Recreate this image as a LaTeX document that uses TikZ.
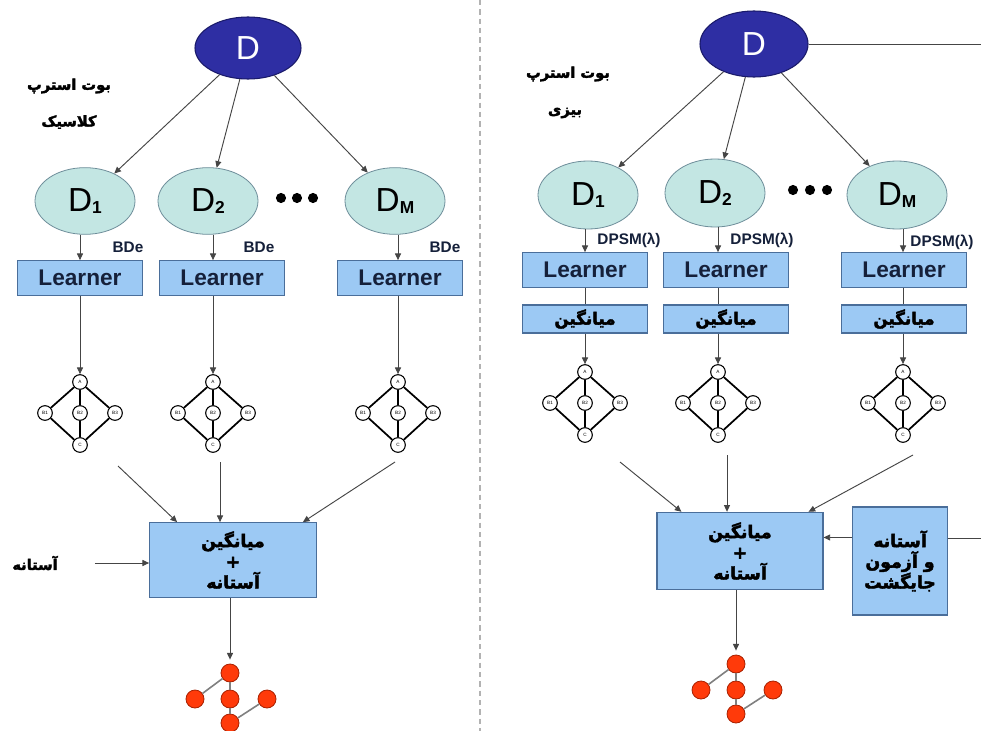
\documentclass[tikz,border=0pt]{standalone}
\usepackage{fontspec}
\setmainfont{Liberation Sans}
\newfontfamily\fa[Script=Arabic,BoldFeatures={FakeBold=2.5}]{DejaVu Sans}
\TeXXeTstate=1
\usetikzlibrary{shapes.geometric,arrows.meta,calc}
\definecolor{dtop}{HTML}{2E2EA3}
\definecolor{dtopb}{HTML}{1A1A6A}
\definecolor{dsub}{HTML}{C3E6E3}
\definecolor{dsubb}{HTML}{6E8E9A}
\definecolor{boxf}{HTML}{9CC9F4}
\definecolor{boxb}{HTML}{4A6E9A}
\definecolor{redn}{HTML}{FF3A0A}
\definecolor{rednb}{HTML}{A82000}
\definecolor{linec}{HTML}{454545}
\definecolor{ltxt}{HTML}{15203A}
\newcommand\fatxt[1]{\beginR #1\endR}
\newcommand\dsubtxt[1]{\fontsize{25}{25}\selectfont D\raisebox{-1.5pt}{\fontsize{13}{13}\selectfont\bfseries #1}}
\tikzset{
  arr/.style={draw=linec,line width=0.7pt,-{Triangle[length=5pt,width=4.5pt]}},
  plain/.style={draw=linec,line width=0.7pt},
  topd/.style={ellipse,draw=dtopb,fill=dtop,line width=0.8pt,inner sep=0pt,text=white,font=\fontsize{25}{25}\selectfont},
  subd/.style={ellipse,draw=dsubb,fill=dsub,line width=0.6pt,inner sep=0pt,minimum width=75pt,minimum height=50pt},
  bx/.style={rectangle,draw=boxb,fill=boxf,line width=0.8pt,inner sep=0pt},
  learnbox/.style={bx,minimum width=93.75pt,minimum height=26pt,text=ltxt,font=\fontsize{17}{17}\selectfont\bfseries},
  meanbox/.style={bx,minimum width=93.75pt,minimum height=21pt,font=\fa\bfseries\fontsize{12.5}{12.5}\selectfont},
  fatext/.style={font=\fa\bfseries\fontsize{11}{13}\selectfont,inner sep=0pt},
  lbl/.style={font=\fontsize{11.5}{11.5}\selectfont\bfseries,inner sep=0pt,text=ltxt},
  gn/.style={circle,draw=black,fill=white,line width=0.8pt,minimum size=11pt,inner sep=0pt,font=\fontsize{3.5}{4}\selectfont},
  gedge/.style={draw=black,line width=1.3pt},
  rn/.style={circle,draw=rednb,fill=redn,line width=0.6pt,minimum size=13.5pt,inner sep=0pt},
  redge/.style={draw=gray,line width=1.2pt},
  bigtxt/.style={align=center,font=\fa\bfseries\fontsize{13}{15.5}\selectfont},
}
\newcommand\smallgraph[3]{%
  \begin{scope}[shift={(#2,#3)}]
    \node[gn] (#1-A) at (0,-31) {A};
    \node[gn] (#1-B1) at (-35,0) {B1};
    \node[gn] (#1-B2) at (0,0) {B2};
    \node[gn] (#1-B3) at (35,0) {B3};
    \node[gn] (#1-C) at (0,32) {C};
    \draw[gedge] (#1-A) -- (#1-B1);
    \draw[gedge] (#1-A) -- (#1-B2);
    \draw[gedge] (#1-A) -- (#1-B3);
    \draw[gedge] (#1-B1) -- (#1-C);
    \draw[gedge] (#1-B2) -- (#1-C);
    \draw[gedge] (#1-B3) -- (#1-C);
  \end{scope}}
\newcommand\redgraph[3]{%
  \begin{scope}[shift={(#2,#3)}]
    \node[rn] (#1-t) at (0,-26) {};
    \node[rn] (#1-l) at (-35,0) {};
    \node[rn] (#1-m) at (0,0) {};
    \node[rn] (#1-r) at (37,0) {};
    \node[rn] (#1-b) at (0,24) {};
  \end{scope}
  \draw[redge] (#1-t) -- (#1-l);
  \draw[redge] (#1-t) -- (#1-m);
  \draw[redge] (#1-m) -- (#1-b);
  \draw[redge] (#1-b) -- (#1-r);}
\begin{document}
\begin{tikzpicture}[x=0.75pt,y=-0.75pt]
\useasboundingbox (0,0) rectangle (981,731);
\fill[white] (0,0) rectangle (981,731);
% separator
\draw[gray!60,line width=0.8pt,dash pattern=on 4pt off 3pt] (480,0) -- (480,731);

%% ---------------- LEFT PANEL ----------------
\node[topd,minimum width=79.5pt,minimum height=46.5pt] (lD) at (248,48) {D};
\node[fatext] (lt1) at (69,86) {\fatxt{بوت استرپ}};
\node[fatext] (lt2) at (69,122) {\fatxt{کلاسیک}};

\node[subd] (lD1) at (85,201) {\dsubtxt{1}};
\node[subd] (lD2) at (208,201) {\dsubtxt{2}};
\node[subd] (lDM) at (395,201) {\dsubtxt{M}};
\foreach \xx in {281,297,313} \fill (\xx,198) circle (3.8pt);

\draw[arr] (lD) -- (lD1);
\draw[arr] (lD) -- (lD2);
\draw[arr] (lD) -- (lDM);

\node[learnbox] (lL1) at (80,278) {Learner};
\node[learnbox] (lL2) at (222,278) {Learner};
\node[learnbox] (lL3) at (400,278) {Learner};

\node[lbl] (lb1) at (128,247) {BDe};
\node[lbl] (lb2) at (259,247) {BDe};
\node[lbl] (lb3) at (445,247) {BDe};

\smallgraph{lG1}{80}{413}
\smallgraph{lG2}{213}{413}
\smallgraph{lG3}{398}{413}

\draw[arr] (lG1-A |- lD1.south) -- (lG1-A |- lL1.north);
\draw[arr] (lG2-A |- lD2.south) -- (lG2-A |- lL2.north);
\draw[arr] (lG3-A |- lDM.south) -- (lG3-A |- lL3.north);
\draw[arr] (lG1-A |- lL1.south) -- (lG1-A);
\draw[arr] (lG2-A |- lL2.south) -- (lG2-A);
\draw[arr] (lG3-A |- lL3.south) -- (lG3-A);

\node[bx,bigtxt,minimum width=125pt,minimum height=56pt] (lB) at (233,560)
  {\fatxt{میانگین}\\ +\\ \fatxt{آستانه}};
\coordinate (ls1) at (118,466);
\coordinate (ls2) at (220,462);
\coordinate (ls3) at (395,462);
\draw[arr] (ls1) -- ($(lB.north west)+(28,0)$);
\draw[arr] (ls2) -- (ls2 |- lB.north);
\draw[arr] (ls3) -- ($(lB.north east)+(-14,0)$);

\node[fatext] (lth) at (35,563) {\fatxt{آستانه}};
\draw[arr] ($(lth.east)+(37,0)$) -- (lth.east -| lB.west);

\redgraph{lR}{230}{699}
\draw[arr,shorten >=3pt] (lR-t |- lB.south) -- (lR-t);

%% ---------------- RIGHT PANEL ----------------
\node[topd,minimum width=81pt,minimum height=49.5pt] (rD) at (754,44) {D};
\coordinate (rtop) at (981,44);
\draw[plain] (rD.east) -- (rD.east -| rtop);
\node[fatext] (rt1) at (568,74) {\fatxt{بوت استرپ}};
\node[fatext] (rt2) at (565,113) {\fatxt{بیزی}};

\node[subd,minimum height=51pt] (rD1) at (588,195) {\dsubtxt{1}};
\node[subd,minimum height=51pt] (rD2) at (715,193) {\dsubtxt{2}};
\node[subd,minimum height=51pt] (rDM) at (897,195) {\dsubtxt{M}};
\foreach \xx in {793,810,827} \fill (\xx,190) circle (3.8pt);

\draw[arr] (rD) -- (rD1);
\draw[arr] (rD) -- (rD2);
\draw[arr] (rD) -- (rDM);

\node[learnbox] (rL1) at (585,270) {Learner};
\node[learnbox] (rL2) at (726,270) {Learner};
\node[learnbox] (rL3) at (904,270) {Learner};
\node[meanbox] (rM1) at (585,319) {\fatxt{میانگین}};
\node[meanbox] (rM2) at (726,319) {\fatxt{میانگین}};
\node[meanbox] (rM3) at (904,319) {\fatxt{میانگین}};

\node[lbl] (rp1) at (629,240) {DPSM(λ)};
\node[lbl] (rp2) at (762,240) {DPSM(λ)};
\node[lbl] (rp3) at (942,242) {DPSM(λ)};

\smallgraph{rG1}{585}{403}
\smallgraph{rG2}{718}{403}
\smallgraph{rG3}{903}{403}

\draw[arr] (rG1-A |- rD1.south) -- (rG1-A |- rL1.north);
\draw[arr] (rG2-A |- rD2.south) -- (rG2-A |- rL2.north);
\draw[arr] (rG3-A |- rDM.south) -- (rG3-A |- rL3.north);
\draw[plain] (rG1-A |- rL1.south) -- (rG1-A |- rM1.north);
\draw[plain] (rG2-A |- rL2.south) -- (rG2-A |- rM2.north);
\draw[plain] (rG3-A |- rL3.south) -- (rG3-A |- rM3.north);
\draw[arr] (rG1-A |- rM1.south) -- (rG1-A);
\draw[arr] (rG2-A |- rM2.south) -- (rG2-A);
\draw[arr] (rG3-A |- rM3.south) -- (rG3-A);

\node[bx,bigtxt,minimum width=124.5pt,minimum height=58pt] (rB) at (740,551)
  {\fatxt{میانگین}\\ +\\ \fatxt{آستانه}};
\coordinate (rs1) at (620,462);
\coordinate (rs2) at (727,455);
\coordinate (rs3) at (913,455);
\draw[arr] (rs1) -- ($(rB.north west)+(25,0)$);
\draw[arr] (rs2) -- (rs2 |- rB.north);
\draw[arr] (rs3) -- ($(rB.north east)+(-15,0)$);

\node[bx,bigtxt,minimum width=71pt,minimum height=81pt] (rT) at (900,561)
  {\fatxt{آستانه}\\ \fatxt{و آزمون}\\ \fatxt{جایگشت}};
\coordinate (rTin) at ($(rT.north west)+(0,31)$);
\draw[arr] (rTin) -- (rTin -| rB.east);
\coordinate (rright) at (981,538);
\draw[plain] (rright) -- (rright -| rT.east);

\redgraph{rR}{736}{690}
\draw[arr,shorten >=3pt] (rR-t |- rB.south) -- (rR-t);
\end{tikzpicture}
\end{document}
